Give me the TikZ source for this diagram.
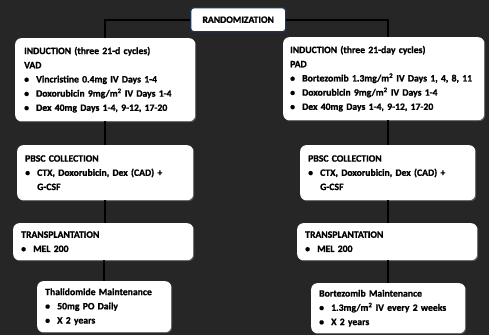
\documentclass[tikz,border=0pt]{standalone}
\usepackage{fontspec}
\setmainfont{Carlito}[BoldFont={Carlito Bold},BoldFeatures={FakeBold=1.2}]
\usetikzlibrary{shadows,calc}
\definecolor{bgc}{RGB}{38,38,38}
\definecolor{navy}{RGB}{30,52,85}
\newcommand{\bul}{\makebox[12pt][l]{\textbullet}}
\newcommand{\hang}{\hspace*{12pt}}
\newcommand{\sq}{\textsuperscript{2}}
\tikzset{
  box/.style={draw=none, fill=white, rounded corners=6pt, anchor=north west,
    align=left, inner xsep=8pt, inner ysep=0pt,
    font=\bfseries\fontsize{9.7}{14.2}\selectfont,
    drop shadow={shadow xshift=1pt, shadow yshift=-1pt, opacity=0.6}},
  randbox/.style={draw=navy, line width=1.4pt, fill=white, rounded corners=3pt,
    anchor=north west, inner sep=0pt, font=\bfseries\fontsize{9.7}{12}\selectfont},
  conn/.style={draw=black, line width=1.8pt}
}
\begin{document}
\begin{tikzpicture}[x=1pt,y=-1pt]
\fill[bgc] (0,0) rectangle (489,335);
\useasboundingbox (0,0) rectangle (489,335);

\node[randbox, minimum width=95pt, minimum height=24pt] (rand) at (190,7) {RANDOMIZATION};

\node[box, text width=162pt, minimum height=83pt, inner xsep=9pt] (lind) at (15,38) {%
INDUCTION (three 21-d cycles)\\
VAD\\
\bul Vincristine 0.4mg IV Days 1-4\\
\bul Doxorubicin 9mg/m\sq{} IV Days 1-4\\
\bul Dex 40mg Days 1-4, 9-12, 17-20};

\node[box, text width=187pt, minimum height=83pt, inner xsep=7pt] (rind) at (283,37) {%
INDUCTION (three 21-day cycles)\\
PAD\\
\bul Bortezomib 1.3mg/m\sq{} IV Days 1, 4, 8, 11\\
\bul Doxorubicin 9mg/m\sq{} IV Days 1-4\\
\bul Dex 40mg Days 1-4, 9-12, 17-20};

\node[box, text width=160pt, minimum height=55pt] (lpbsc) at (17,145) {%
PBSC COLLECTION\\
\bul CTX, Doxorubicin, Dex (CAD) +\\
\hang G-CSF};

\node[box, text width=159pt, minimum height=55pt] (rpbsc) at (300,145) {%
PBSC COLLECTION\\
\bul CTX, Doxorubicin, Dex (CAD) +\\
\hang G-CSF};

\node[box, text width=164pt, minimum height=37pt] (ltx) at (13,223) {%
TRANSPLANTATION\\
\bul MEL 200};

\node[box, text width=164pt, minimum height=37pt] (rtx) at (297,223) {%
TRANSPLANTATION\\
\bul MEL 200};

\node[box, text width=118pt, minimum height=51pt] (thal) at (37,281) {%
Thalidomide Maintenance\\
\bul 50mg PO Daily\\
\bul X 2 years};

\node[box, text width=138pt, minimum height=50pt] (bort) at (311,283) {%
Bortezomib Maintenance\\
\bul 1.3mg/m\sq{} IV every 2 weeks\\
\bul X 2 years};

\draw[conn] (rand.west) -| (lind.north);
\draw[conn] (rand.east) -| (rpbsc.north |- rind.north);
\draw[conn] (lpbsc.north |- lind.south) -- (lpbsc.north);
\draw[conn] (rpbsc.north |- rind.south) -- (rpbsc.north);
\draw[conn] (lpbsc.south) -- (lpbsc.south |- ltx.north);
\draw[conn] (rpbsc.south) -- (rpbsc.south |- rtx.north);
\draw[conn] (thal.north |- ltx.south) -- (thal.north);
\draw[conn] (bort.north |- rtx.south) -- (bort.north);
\end{tikzpicture}
\end{document}
